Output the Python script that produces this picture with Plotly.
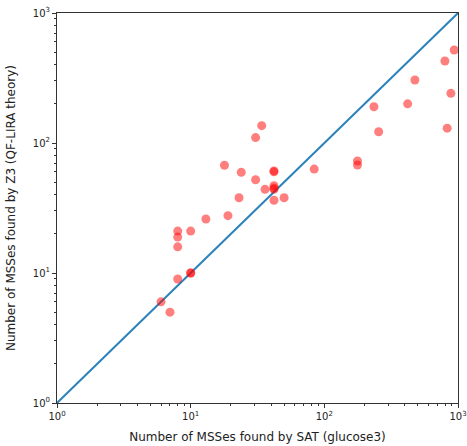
import plotly.graph_objects as go

sat_counts = [34, 30.6, 17.9, 23.9, 42, 42, 84, 30.6, 36, 42, 42, 42, 23, 42, 50, 19, 13,
              8, 10, 8, 8, 10, 10, 8, 6, 7,
              937, 798, 476, 885, 420, 235, 255, 830, 177, 177]
z3_counts = [136, 110, 67.4, 59.5, 61, 60, 63, 52.2, 44, 44, 45, 47, 37.9, 36.3, 37.9, 27.6, 26,
             21, 21, 18.9, 15.9, 10, 10, 9, 6, 5,
             519, 427, 305, 241, 200, 190, 122, 130, 72.7, 67.7]
diag = [1, 1000]
tick_vals = [1, 10, 100, 1000]
tick_text = ["10<sup>0</sup>", "10<sup>1</sup>", "10<sup>2</sup>", "10<sup>3</sup>"]
minor_vals = [m * 10 ** k for k in range(3) for m in range(2, 10)]

fig = go.Figure()
fig.add_trace(go.Scatter(x=diag, y=diag, mode="lines", cliponaxis=True,
                         line=dict(color="#2b83ba", width=2), showlegend=False))
fig.add_trace(go.Scatter(x=sat_counts, y=z3_counts, mode="markers", cliponaxis=True,
                         marker=dict(color="red", size=9, opacity=0.5, line=dict(width=0)),
                         showlegend=False))

axis_common = dict(
    type="log", range=[0, 3], tickmode="array", tickvals=tick_vals, ticktext=tick_text,
    showline=True, linecolor="#333", linewidth=1, mirror=True, automargin=False,
    ticks="outside", ticklen=4, tickcolor="#333", showgrid=False, zeroline=False,
    tickfont=dict(family="DejaVu Sans", size=10, color="#222"),
    minor=dict(tickmode="array", tickvals=minor_vals, ticks="outside", ticklen=2,
               tickcolor="#333", showgrid=False),
)
fig.update_layout(
    width=467, height=446,
    margin=dict(l=57, r=9, t=13, b=43),
    paper_bgcolor="white", plot_bgcolor="white",
    font=dict(family="DejaVu Sans", size=12, color="#222"),
    xaxis=dict(axis_common, title=dict(text="Number of MSSes found by SAT (glucose3)",
                                       font=dict(size=12), standoff=11)),
    yaxis=dict(axis_common, title=dict(text="Number of MSSes found by Z3 (QF-LIRA theory)",
                                       font=dict(size=12), standoff=14)),
)
fig.write_html("out.html", config={"displayModeBar": False},
               post_script="document.body.style.margin='0';document.body.style.overflow='hidden';")
